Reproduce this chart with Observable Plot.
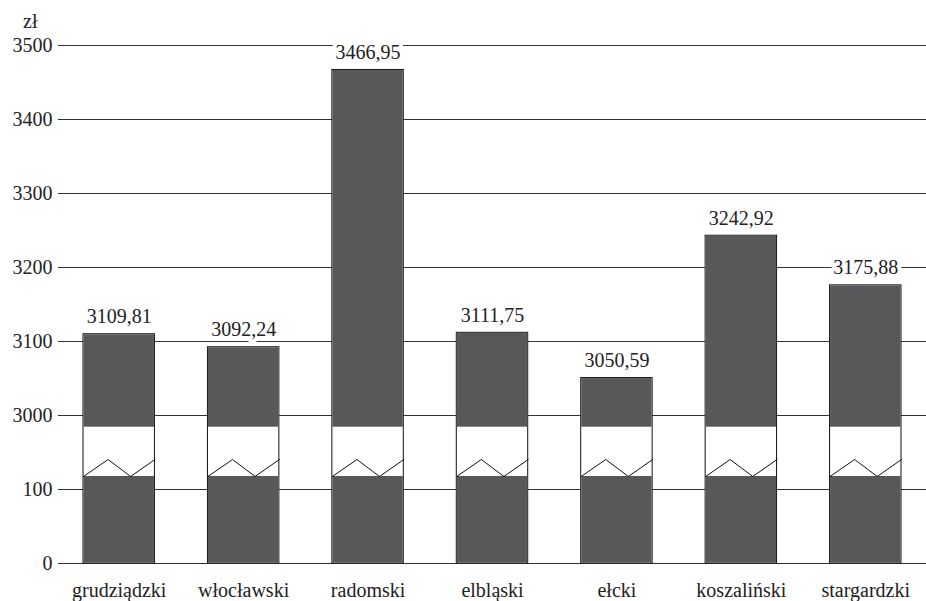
<!DOCTYPE html>
<html><head><meta charset="utf-8">
<script src="https://cdn.jsdelivr.net/npm/d3@7"></script>
<script src="https://cdn.jsdelivr.net/npm/@observablehq/plot@0.6"></script>
<style>
body{margin:0;background:#fff;font-family:"Liberation Serif",serif}
#wrap{position:relative;width:926px;height:601px}
#unit{position:absolute;left:23px;top:11px;font:20px/20px "Liberation Serif",serif;color:#222}
svg{display:block}
</style>
</head><body>
<div id="wrap"><div id="chart"></div><div id="unit"></div></div>
<script>
const regions = ["grudziądzki","włocławski","radomski","elbląski","ełcki","koszaliński","stargardzki"];
const wages = [3109.81, 3092.24, 3466.95, 3111.75, 3050.59, 3242.92, 3175.88];
const yTickValues = [0, 100, 3000, 3100, 3200, 3300, 3400, 3500];
const unit = "zł";

// broken axis: 0–100, then 3000–3500, every tick step equally spaced
const toAxis = v => v <= 100 ? v / 100 : 2 + (v - 3000) / 100;
const tickPos = yTickValues.map(toAxis);
const breakLo = 1.176, breakHi = 1.842, zigHi = 1.405;
const half = 0.287;
const fmt = v => v.toFixed(2).replace(".", ",");

const data = regions.map((r, i) => ({region: r, i, value: wages[i], y: toAxis(wages[i])}));
const zig = data.flatMap(d => [
  {i: d.i, x: d.i - half, y: breakLo},
  {i: d.i, x: d.i - half + 0.344 * 2 * half, y: zigHi},
  {i: d.i, x: d.i - half + 0.66 * 2 * half, y: breakLo},
  {i: d.i, x: d.i + half, y: zigHi}
]);
const bx1 = d => d.i - half, bx2 = d => d.i + half;
const serif = "Liberation Serif";

document.getElementById("unit").textContent = unit;

function draw() {
  const chart = Plot.plot({
    width: 926, height: 601,
    marginLeft: 58, marginRight: 0, marginTop: 45, marginBottom: 38,
    style: {fontFamily: serif, fontSize: "20px", color: "#222", background: "#fff"},
    x: {domain: [-0.488, 6.488]},
    y: {domain: [0, 7]},
    marks: [
      Plot.ruleY(tickPos, {stroke: "#333", strokeWidth: 1}),
      Plot.rectY(data, {x1: bx1, x2: bx2, y1: 0, y2: "y", fill: "white", stroke: "#111", strokeWidth: 1}),
      Plot.rectY(data, {x1: bx1, x2: bx2, y1: 0, y2: breakLo, fill: "#58585a", insetLeft: 0.5, insetRight: 0.5, insetBottom: 0.5}),
      Plot.rectY(data, {x1: bx1, x2: bx2, y1: breakHi, y2: "y", fill: "#58585a", insetLeft: 0.5, insetRight: 0.5, insetTop: 0.5}),
      Plot.line(zig, {x: "x", y: "y", z: "i", stroke: "#111", strokeWidth: 1}),
      Plot.text(data, {x: "i", y: "y", text: d => fmt(d.value), lineAnchor: "bottom", dy: -11, stroke: "white", strokeWidth: 8, fill: "#222", fontFamily: serif, fontSize: 20}),
      Plot.axisX({ticks: d3.range(regions.length), tickFormat: i => regions[i], tickSize: 0, tickPadding: 19, label: null, fontFamily: serif, fontSize: 20}),
      Plot.axisY({ticks: tickPos, tickFormat: t => String(yTickValues[tickPos.indexOf(t)]), tickSize: 0, tickPadding: 6, label: null, fontFamily: serif, fontSize: 20})
    ]
  });
  const host = document.getElementById("chart");
  host.innerHTML = "";
  host.appendChild(chart);
}
draw();
if (document.fonts && document.fonts.load) {
  document.fonts.load("20px 'Liberation Serif'", "zł0123456789ąńł").then(draw).catch(() => {});
}
</script>
</body></html>
